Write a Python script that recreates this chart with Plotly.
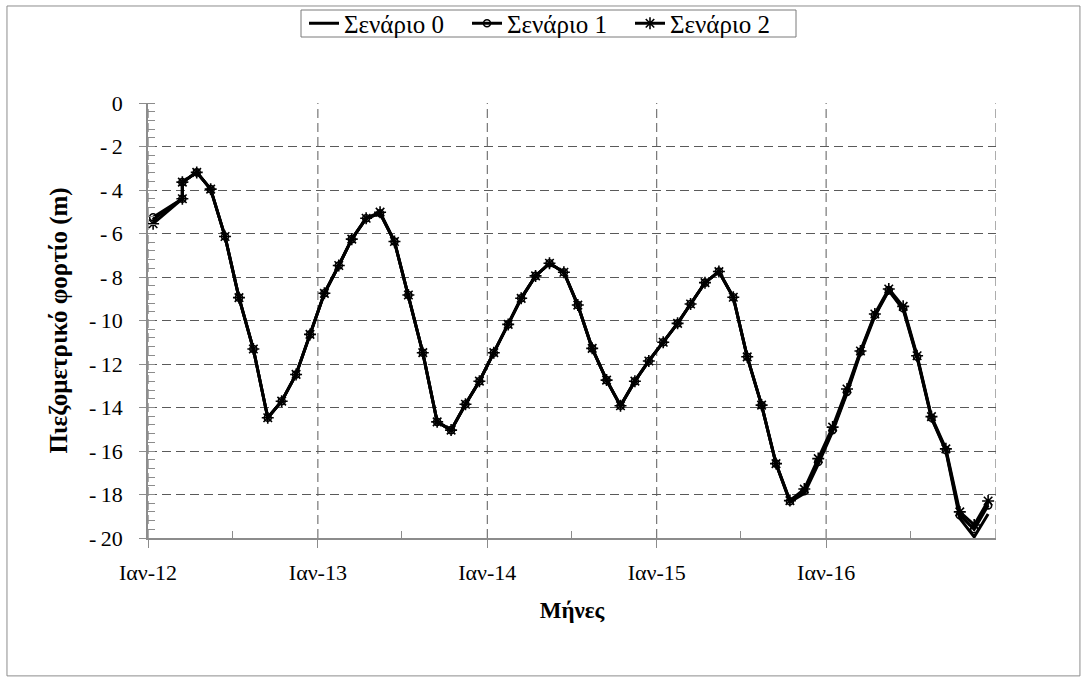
import plotly.graph_objects as go

# ── Data ──────────────────────────────────────────────────────────────────────
# monthly readings (mid-month); March 2012 appears twice in the source series
dates = [
    "2012-01-12", "2012-03-15", "2012-03-15", "2012-04-15", "2012-05-15", "2012-06-15",
    "2012-07-15", "2012-08-15", "2012-09-15", "2012-10-15", "2012-11-15", "2012-12-15",
    "2013-01-15", "2013-02-15", "2013-03-15", "2013-04-15", "2013-05-15", "2013-06-15",
    "2013-07-15", "2013-08-15", "2013-09-15", "2013-10-15", "2013-11-15", "2013-12-15",
    "2014-01-15", "2014-02-15", "2014-03-15", "2014-04-15", "2014-05-15", "2014-06-15",
    "2014-07-15", "2014-08-15", "2014-09-15", "2014-10-15", "2014-11-15", "2014-12-15",
    "2015-01-15", "2015-02-15", "2015-03-15", "2015-04-15", "2015-05-15", "2015-06-15",
    "2015-07-15", "2015-08-15", "2015-09-15", "2015-10-15", "2015-11-15", "2015-12-15",
    "2016-01-15", "2016-02-15", "2016-03-15", "2016-04-15", "2016-05-15", "2016-06-15",
    "2016-07-15", "2016-08-15", "2016-09-15", "2016-10-15", "2016-11-15", "2016-12-15",
]

scenario_0 = [
    -5.35, -4.40, -3.64, -3.19, -3.96, -6.14, -8.95, -11.31, -14.47, -13.71, -12.48, -10.64,
    -8.75, -7.47, -6.26, -5.30, -5.07, -6.37, -8.83, -11.48, -14.66, -15.04, -13.85, -12.79,
    -11.48, -10.18, -8.98, -7.95, -7.37, -7.78, -9.29, -11.28, -12.74, -13.92, -12.79, -11.86,
    -11.00, -10.13, -9.24, -8.26, -7.75, -8.93, -11.67, -13.89, -16.58, -18.35, -17.95, -16.60,
    -15.10, -13.35, -11.50, -9.80, -8.62, -9.50, -11.70, -14.50, -16.00, -19.10, -19.95, -18.90,
]

scenario_1 = [
    -5.25, -4.40, -3.64, -3.19, -3.96, -6.14, -8.95, -11.31, -14.47, -13.71, -12.48, -10.64,
    -8.75, -7.47, -6.26, -5.30, -5.07, -6.37, -8.83, -11.48, -14.66, -15.04, -13.85, -12.79,
    -11.48, -10.18, -8.98, -7.95, -7.37, -7.78, -9.29, -11.28, -12.74, -13.92, -12.79, -11.86,
    -11.00, -10.13, -9.24, -8.26, -7.75, -8.93, -11.67, -13.89, -16.58, -18.31, -17.85, -16.50,
    -15.04, -13.28, -11.44, -9.75, -8.60, -9.44, -11.67, -14.47, -15.96, -18.95, -19.60, -18.50,
]

scenario_2 = [
    -5.55, -4.40, -3.64, -3.19, -3.96, -6.14, -8.95, -11.31, -14.47, -13.71, -12.48, -10.64,
    -8.75, -7.47, -6.26, -5.30, -5.02, -6.37, -8.83, -11.48, -14.66, -15.04, -13.85, -12.79,
    -11.48, -10.18, -8.98, -7.95, -7.37, -7.78, -9.29, -11.28, -12.74, -13.92, -12.79, -11.86,
    -11.00, -10.13, -9.24, -8.26, -7.75, -8.93, -11.67, -13.89, -16.58, -18.28, -17.75, -16.35,
    -14.90, -13.15, -11.40, -9.70, -8.55, -9.35, -11.62, -14.42, -15.90, -18.80, -19.40, -18.30,
]

year_ticks = ["2012-01-01", "2013-01-01", "2014-01-01", "2015-01-01", "2016-01-01"]
year_labels = ["Ιαν-12", "Ιαν-13", "Ιαν-14", "Ιαν-15", "Ιαν-16"]
mid_year_ticks = ["2012-07-01", "2013-07-01", "2014-07-01", "2015-07-01", "2016-07-01"]
grid_x = year_ticks + ["2017-01-01"]

y_ticks = [0, -2, -4, -6, -8, -10, -12, -14, -16, -18, -20]
y_labels = ["0", "-\u20092", "-\u20094", "-\u20096", "-\u20098", "-\u200910",
            "-\u200912", "-\u200914", "-\u200916", "-\u200918", "-\u200920"]

FONT = "Liberation Serif, Times New Roman, serif"
GRID = "#5a5a5a"
AXIS = "#8c8c8c"
W, H = 1087, 682

fig = go.Figure()

fig.add_trace(go.Scatter(
    x=dates, y=scenario_0, name="Σενάριο 0", mode="lines",
    line=dict(color="black", width=3),
))
fig.add_trace(go.Scatter(
    x=dates, y=scenario_1, name="Σενάριο 1", mode="lines+markers",
    line=dict(color="black", width=3),
    marker=dict(symbol="circle-open", size=7, color="black", line=dict(width=1.6)),
))
fig.add_trace(go.Scatter(
    x=dates, y=scenario_2, name="Σενάριο 2", mode="lines+markers",
    line=dict(color="black", width=3),
    marker=dict(symbol="asterisk-open", size=10, color="black", line=dict(width=1.6)),
))

# ── Layout ────────────────────────────────────────────────────────────────────
fig.update_layout(
    width=W, height=H,
    paper_bgcolor="white", plot_bgcolor="white",
    margin=dict(l=148, r=91, t=103, b=144, autoexpand=False),
    font=dict(family=FONT, size=22, color="black"),
    showlegend=True,
    legend=dict(
        orientation="h",
        xref="container", x=548.5 / W, xanchor="center",
        yref="container", y=1 - 23.5 / H, yanchor="middle",
        borderwidth=0, bgcolor="rgba(0,0,0,0)",
        font=dict(family=FONT, size=25), itemwidth=30,
        entrywidth=118, entrywidthmode="pixels",
    ),
    shapes=[
        # outer chart border
        dict(type="rect", xref="paper", yref="paper",
             x0=-0.1663, x1=1.099, y0=-0.317, y1=1.223,
             line=dict(color="#8c8c8c", width=1), layer="below"),
        # legend frame
        dict(type="rect", xref="paper", yref="paper",
             x0=(301 - 148) / 848, x1=(796 - 148) / 848,
             y0=(538 - 37) / 435, y1=(538 - 10) / 435,
             line=dict(color="#7a7a7a", width=1), layer="below"),
    ],
)

fig.update_xaxes(
    type="date", range=["2012-01-01", "2017-01-01"],
    tickmode="array", tickvals=year_ticks, ticktext=year_labels,
    ticks="outside", ticklen=8, tickcolor=AXIS, ticklabelstandoff=6,
    showline=True, linecolor=AXIS, linewidth=1.5,
    showgrid=False, zeroline=False,
    minor=dict(tickmode="array", tickvals=mid_year_ticks, ticks="inside",
               ticklen=7, tickcolor=AXIS, showgrid=False),
    title=dict(text="<b>Μήνες</b>", font=dict(family=FONT, size=23), standoff=18),
)

fig.update_yaxes(
    range=[-20, 0], tickmode="array", tickvals=y_ticks, ticktext=y_labels,
    ticks="outside", ticklen=7, tickcolor=AXIS, ticklabelstandoff=12,
    showline=True, linecolor=AXIS, linewidth=1.5,
    showgrid=True, gridcolor=GRID, griddash="9px,5px", gridwidth=1,
    zeroline=False,
    minor=dict(tickmode="linear", dtick=0.4, tick0=0, ticks="inside", ticklen=7,
               tickcolor=AXIS, showgrid=False),
    title=dict(text="<b>Πιεζομετρικό φορτίο (m)</b>", font=dict(family=FONT, size=25), standoff=14),
)

# vertical dashed gridlines at each January (including the right edge)
for gx in grid_x:
    fig.add_shape(
        type="line", xref="x", yref="paper", x0=gx, x1=gx, y0=0, y1=1,
        line=dict(color=GRID, width=1, dash="9px,5px"), layer="below",
    )

fig.write_html(
    "out.html",
    config={"displayModeBar": False},
    post_script="document.body.style.margin='0';document.body.style.overflow='hidden';",
)
